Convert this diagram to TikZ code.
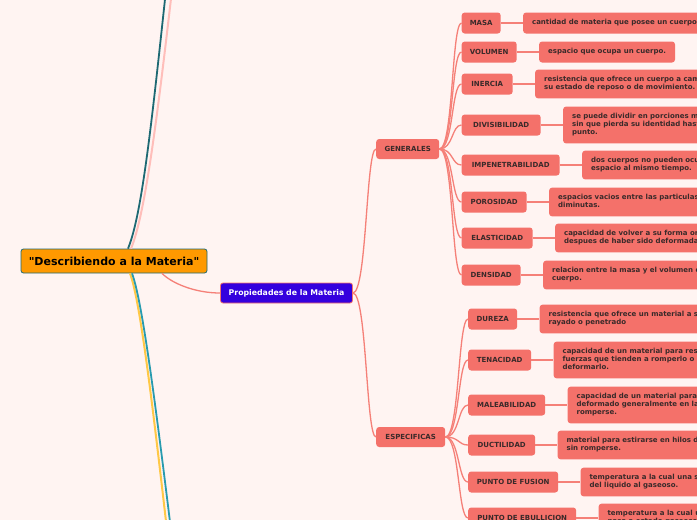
\documentclass[tikz,border=0pt]{standalone}
\usepackage{fontspec}
\setmainfont{DejaVu Sans}
\newfontfamily\rootfont{DejaVu Sans}
\usetikzlibrary{positioning}
\definecolor{MapBack}{RGB}{255,244,242}
\definecolor{Salmon}{RGB}{244,113,106}
\definecolor{SalmonLine}{RGB}{245,128,120}
\definecolor{MapText}{RGB}{58,42,42}
\definecolor{RootOrange}{RGB}{255,153,0}
\definecolor{RootTeal}{RGB}{30,105,115}
\definecolor{PropBlue}{RGB}{52,0,222}
\definecolor{BranchPink}{RGB}{255,190,186}
\definecolor{BranchGold}{RGB}{255,200,70}
\definecolor{BranchCyan}{RGB}{40,155,175}

\begin{document}
\begin{tikzpicture}[
        x=1pt, y=-1pt,
        root/.style={
            rectangle,
            rounded corners=2.5pt,
            draw=RootTeal,
            line width=0.8pt,
            fill=RootOrange,
            minimum width=186pt,
            minimum height=24pt,
            font=\rootfont\fontsize{11}{13}\selectfont\bfseries
        },
        topic/.style={
            rectangle,
            rounded corners=2.5pt,
            draw=Salmon,
            line width=0.8pt,
            fill=PropBlue,
            text=white,
            minimum width=132pt,
            minimum height=20pt,
            font=\fontsize{7.8}{9}\selectfont\bfseries
        },
        group/.style={
            rectangle,
            rounded corners=3pt,
            fill=Salmon,
            text=MapText,
            anchor=west,
            minimum height=20pt,
            inner xsep=7pt,
            font=\fontsize{7}{8}\selectfont\bfseries
        },
        prop/.style={group, minimum height=21pt, minimum width=#1},
        desc/.style={
            rectangle,
            rounded corners=3pt,
            fill=Salmon,
            text=MapText,
            align=left,
            inner xsep=9pt,
            inner ysep=6.5pt,
            execute at begin node=\strut,
            execute at end node=\strut,
            font=\fontsize{7}{8}\selectfont\bfseries
        },
        link/.style={draw=SalmonLine, line width=1.3pt},
        node distance=22pt
    ]

    \useasboundingbox (0,0) rectangle (697,520);
    \clip (0,0) rectangle (697,520);
    \fill[MapBack] (0,0) rectangle (697,520);

    % Centro
    \node[root] (root) at (114,261) {"Describiendo a la Materia"};
    \node[topic] (props) at (286.5,293) {Propiedades de la Materia};

    % Grupos
    \node[group, minimum width=63pt] (gen) at (376,149) {GENERALES};
    \node[group, minimum width=69pt] (esp) at (376,437) {ESPECIFICAS};

    % Propiedades generales
    \node[prop=39pt] (masa) at (461.5,23) {MASA};
    \node[prop=55pt] (volumen) at (461.5,52) {VOLUMEN};
    \node[prop=51pt] (inercia) at (461.5,84) {INERCIA};
    \node[prop=79pt] (divis) at (461.5,125) {DIVISIBILIDAD};
    \node[prop=98pt] (impen) at (461.5,165) {IMPENETRABILIDAD};
    \node[prop=65pt] (poros) at (461.5,202) {POROSIDAD};
    \node[prop=71pt] (elast) at (461.5,238) {ELASTICIDAD};
    \node[prop=59pt] (dens) at (461.5,275) {DENSIDAD};

    \node[desc, right=of masa] (defmasa) {cantidad de materia que posee un cuerpo.};
    \node[desc, right=of volumen] (defvolumen) {espacio que ocupa un cuerpo.};
    \node[desc, right=of inercia] (definercia) {resistencia que ofrece un cuerpo a cambiar\\su estado de reposo o de movimiento.};
    \node[desc, right=of divis] (defdivis) {se puede dividir en porciones mas pequeñas\\sin que pierda su identidad hasta cierto\\punto.};
    \node[desc, right=of impen] (defimpen) {dos cuerpos no pueden ocupar el mismo\\espacio al mismo tiempo.};
    \node[desc, right=of poros] (defporos) {espacios vacios entre las particulas\\diminutas.};
    \node[desc, right=of elast] (defelast) {capacidad de volver a su forma original\\despues de haber sido deformada.};
    \node[desc, right=of dens] (defdens) {relacion entre la masa y el volumen de un\\cuerpo.};

    % Propiedades especificas
    \node[prop=49pt] (dureza) at (468,319) {DUREZA};
    \node[prop=63pt] (tenac) at (468,360) {TENACIDAD};
    \node[prop=77pt] (maleab) at (468,405) {MALEABILIDAD};
    \node[prop=67pt] (ductil) at (468,445) {DUCTILIDAD};
    \node[prop=90pt] (fusion) at (468,482) {PUNTO DE FUSION};
    \node[prop=108pt] (ebull) at (468,518) {PUNTO DE EBULLICION};

    \node[desc, right=of dureza] (defdureza) {resistencia que ofrece un material a ser\\rayado o penetrado};
    \node[desc, right=of tenac] (deftenac) {capacidad de un material para resistir\\fuerzas que tienden a romperlo o\\deformarlo.};
    \node[desc, right=of maleab] (defmaleab) {capacidad de un material para ser\\deformado generalmente en laminas sin\\romperse.};
    \node[desc, right=of ductil] (defductil) {material para estirarse en hilos delgados\\sin romperse.};
    \node[desc, right=of fusion] (deffusion) {temperatura a la cual una sustancia pasa\\del liquido al gaseoso.};
    \node[desc, right=of ebull] (defebull) {temperatura a la cual un liquido\\pasa a estado gaseoso.};

    % Ramas del centro
    \coordinate (uppink) at (172,-10);
    \coordinate (upteal) at (166,-10);
    \coordinate (downgold) at (167,530);
    \coordinate (downcyan) at (171,530);
    \draw[BranchPink, line width=2pt] ([xshift=17pt]root.north) .. controls (145,215) and (157,120) .. (uppink);
    \draw[RootTeal, line width=1.8pt] ([xshift=14pt]root.north) .. controls (142,215) and (152,120) .. (upteal);
    \draw[BranchGold, line width=2pt] ([xshift=16pt]root.south) .. controls (140,300) and (152,400) .. (downgold);
    \draw[BranchCyan, line width=1.8pt] ([xshift=18pt]root.south) .. controls (142,300) and (155,400) .. (downcyan);

    % Flechas
    \draw[link] ([xshift=48pt]root.south) .. controls +(10,10) and +(-25,0) .. (props.west);
    \foreach \c in {gen,esp}
        \draw[link] (props.east) .. controls +(14,0) and +(-10,0) .. (\c.west);
    \foreach \c in {masa,volumen,inercia,divis,impen,poros,elast,dens} {
        \draw[link] (gen.east) .. controls +(14,0) and +(-10,0) .. (\c.west);
        \draw[link] (\c) -- (def\c);
    }
    \foreach \c in {dureza,tenac,maleab,ductil,fusion,ebull} {
        \draw[link] (esp.east) .. controls +(14,0) and +(-10,0) .. (\c.west);
        \draw[link] (\c) -- (def\c);
    }

\end{tikzpicture}
\end{document}
